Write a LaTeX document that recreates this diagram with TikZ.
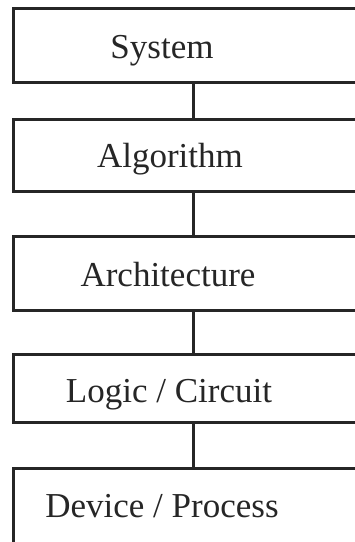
\documentclass[tikz,border=0pt]{standalone}
\usepackage{fontspec}
\setmainfont{Liberation Serif}
\begin{document}
\begin{tikzpicture}[x=1pt,y=-1pt,
  level/.style={draw=black!85, line width=3pt, fill=white, minimum width=360pt, inner sep=0pt},
  link/.style={draw=black!85, line width=3pt},
  caption/.style={anchor=base, font=\fontsize{35}{40}\selectfont, text=black!85, inner sep=0pt}]
  \useasboundingbox (0,0) rectangle (355,542);
  \clip (0,0) rectangle (355,542);
  % hierarchy levels, top to bottom
  \node[level, minimum height=74pt] (sys)  at (193,45)  {};
  \node[level, minimum height=72pt] (alg)  at (193,155) {};
  \node[level, minimum height=74pt] (arch) at (193,273) {};
  \node[level, minimum height=68pt] (logic) at (193,388) {};
  \node[level, minimum height=92pt] (dev)  at (193,514) {};
  % level names
  \node[caption] (tsys)  at (162,58)  {System};
  \node[caption] (talg)  at (170,167) {Algorithm};
  \node[caption] (tarch) at (168,286) {Architecture};
  \node[caption] (tlogic) at (169,402) {Logic / Circuit};
  \node[caption] (tdev)  at (162,517) {Device / Process};
  % vertical links between adjacent levels
  \draw[link] (sys.south) -- (alg.north);
  \draw[link] (alg.south) -- (arch.north);
  \draw[link] (arch.south) -- (logic.north);
  \draw[link] (logic.south) -- (dev.north);
\end{tikzpicture}
\end{document}
